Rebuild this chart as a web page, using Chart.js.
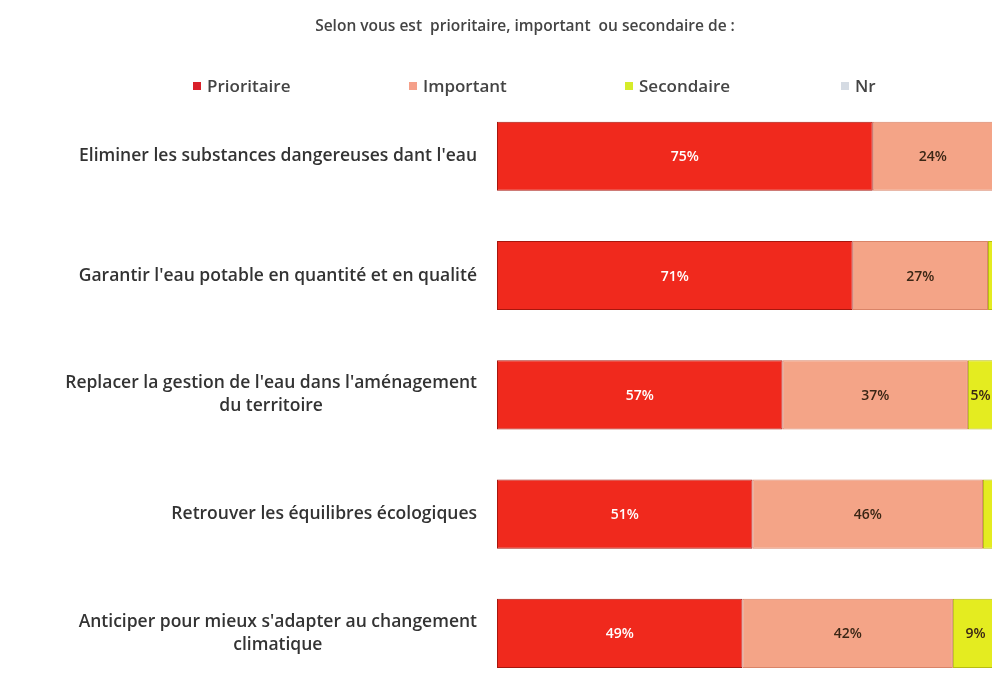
<!DOCTYPE html>
<html>
<head>
<meta charset="utf-8">
<script src="https://cdn.jsdelivr.net/npm/chart.js@4/dist/chart.umd.min.js"></script>
<style>
  html, body { margin: 0; padding: 0; background: #fff; overflow: hidden; }
  #wrap { position: relative; width: 1050px; height: 695px; }
  #legend { position: absolute; top: 74px; left: 193px; display: flex; font: 600 17px "Open Sans", sans-serif; color: #444; }
  #legend .item { width: 216px; display: flex; align-items: center; }
  #legend .box { width: 8px; height: 8px; margin-right: 6px; }
</style>
</head>
<body>
<div id="wrap">
  <canvas id="chart" width="1050" height="695"></canvas>
  <div id="legend"></div>
</div>
<script>
// categories (multi-line labels as arrays)
const categories = [
  ["Eliminer les substances dangereuses dant l'eau"],
  ["Garantir l'eau potable en quantité et en qualité"],
  ["Replacer la gestion de l'eau dans l'aménagement", "du territoire"],
  ["Retrouver les équilibres écologiques"],
  ["Anticiper pour mieux s'adapter au changement", "climatique"]
];

const seriesNames = ['Prioritaire', 'Important', 'Secondaire', 'Nr'];
const prioritaire = [75, 71, 57, 51, 49];
const important   = [24, 27, 37, 46, 42];
const secondaire  = [0, 2, 5, 3, 9];
const nr          = [1, 0, 1, 0, 0];

const colors  = ['#f0291d', '#f4a487', '#e4ec20', '#d5dbe3'];
const borders = ['#a8160d', '#d98468', '#b8bd10', '#b8bec6'];
const legendColors = ['#d9202a', '#f5a08a', '#d6ec2a', '#d5dbe3'];
const labelColors = ['#ffffff', '#3a2615', '#3a2615', '#3a2615'];

const titleText = 'Selon vous est  prioritaire, important  ou secondaire de :';

// html legend
const legendEl = document.getElementById('legend');
seriesNames.forEach((name, i) => {
  const item = document.createElement('div');
  item.className = 'item';
  const box = document.createElement('span');
  box.className = 'box';
  box.style.background = legendColors[i];
  item.appendChild(box);
  item.appendChild(document.createTextNode(name));
  legendEl.appendChild(item);
});

const categoryLabels = {
  id: 'categoryLabels',
  afterDraw(chart) {
    const { ctx, chartArea, scales: { y } } = chart;
    ctx.save();
    ctx.font = '600 17.5px "Open Sans", sans-serif';
    ctx.fillStyle = '#333';
    ctx.textAlign = 'center';
    ctx.textBaseline = 'middle';
    categories.forEach((lines, i) => {
      const w = Math.max(...lines.map(l => ctx.measureText(l).width));
      const cx = chartArea.left - 20 - w / 2;
      const yc = y.getPixelForValue(i);
      lines.forEach((l, j) => {
        ctx.fillText(l, cx, yc + (j - (lines.length - 1) / 2) * 23);
      });
    });
    ctx.restore();
  }
};

const valueLabels = {
  id: 'valueLabels',
  afterDatasetsDraw(chart) {
    const { ctx } = chart;
    ctx.save();
    ctx.font = '600 14px "Open Sans", sans-serif';
    ctx.textAlign = 'center';
    ctx.textBaseline = 'middle';
    chart.data.datasets.forEach((ds, di) => {
      const meta = chart.getDatasetMeta(di);
      ctx.fillStyle = labelColors[di];
      meta.data.forEach((bar, i) => {
        const v = ds.data[i];
        if (v < 4) return;
        const { x, y, base } = bar.getProps(['x', 'y', 'base'], true);
        ctx.fillText(v + '%', (x + base) / 2, y + 1);
      });
    });
    ctx.restore();
  }
};

const seriesData = [prioritaire, important, secondaire, nr];

new Chart(document.getElementById('chart'), {
  type: 'bar',
  data: {
    labels: categories,
    datasets: seriesNames.map((name, i) => ({
      label: name,
      data: seriesData[i],
      backgroundColor: colors[i],
      borderColor: borders[i],
      borderWidth: 1,
      borderSkipped: false,
      categoryPercentage: 1,
      barPercentage: 0.58
    }))
  },
  options: {
    indexAxis: 'y',
    responsive: false,
    animation: false,
    devicePixelRatio: 1,
    layout: { padding: { left: 52, right: 52, top: 0, bottom: 2 } },
    plugins: {
      legend: { display: false },
      tooltip: { enabled: false },
      title: {
        display: true,
        text: titleText,
        color: '#444',
        font: { family: '"Open Sans", sans-serif', size: 15.5, weight: '600' },
        padding: { top: 17, bottom: 61 }
      }
    },
    scales: {
      x: { stacked: true, min: 0, max: 100, display: false },
      y: {
        stacked: true,
        grid: { display: false },
        border: { display: false },
        ticks: { display: false },
        afterFit(scale) { scale.width = 445; }
      }
    }
  },
  plugins: [categoryLabels, valueLabels]
});
</script>
</body>
</html>
